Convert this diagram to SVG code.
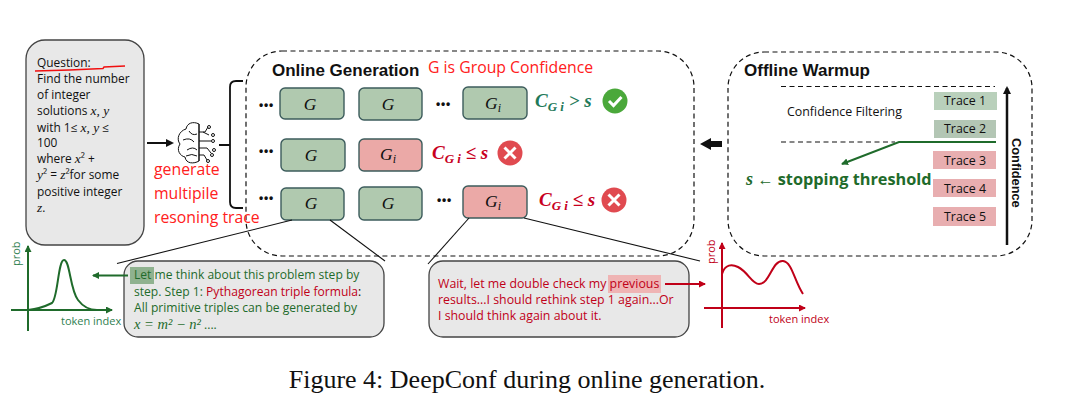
<svg xmlns="http://www.w3.org/2000/svg" width="1072" height="419" viewBox="0 0 1072 419">
<style>
text{font-family:"Open Sans","Liberation Sans",sans-serif;fill:#111}
.m{font-family:"Liberation Serif",serif;font-style:italic;font-size:13.5px}
.q{font-size:11.9px}
.dash{fill:none;stroke:#111;stroke-width:1.2;stroke-dasharray:5 3.5}
.gg{fill:#b0c9af;stroke:#3c5c5c;stroke-width:1.4}
.gp{fill:#eba9a7;stroke:#3c5c5c;stroke-width:1.4}
.gl{font-size:17.5px;text-anchor:middle;font-family:"Liberation Serif",serif;font-style:italic}
.dots{font-size:12px;font-weight:700;font-family:"Liberation Sans",sans-serif;letter-spacing:.8px}
.rd{fill:#ff2020}
.cond{font-family:"Liberation Serif",serif;font-style:italic;font-weight:700;font-size:19px}
.tr{font-size:12.4px;text-anchor:middle}
.h{font-family:"Liberation Sans",sans-serif;font-weight:700;font-size:17px}
.b{font-size:12.1px}
.br{font-size:12.35px}
.ln{stroke:#111;stroke-width:1.1;fill:none}
.gc{fill:#1f6b2b}
.rc{fill:#c00018}
</style>
<defs>
<marker id="ak" markerWidth="9" markerHeight="9" refX="6" refY="4" orient="auto" markerUnits="userSpaceOnUse"><path d="M0 0L8 4L0 8z" fill="#111"/></marker>
<marker id="ag" markerWidth="8" markerHeight="8" refX="6" refY="3.5" orient="auto" markerUnits="userSpaceOnUse"><path d="M0 0L7 3.5L0 7z" fill="#1f6b2b"/></marker>
<marker id="ar" markerWidth="8" markerHeight="8" refX="6" refY="3.5" orient="auto" markerUnits="userSpaceOnUse"><path d="M0 0L7 3.5L0 7z" fill="#c00018"/></marker>
</defs>

<g id="online-frame"><rect class="dash" x="246" y="51" width="448" height="205" rx="36"/><text class="h" x="272" y="76">Online Generation</text><text class="rd" x="428" y="73" font-size="15.800">G is Group Confidence</text></g>
<g id="offline-frame"><rect class="dash" x="728" y="52" width="304" height="204" rx="36"/><text class="h" x="744" y="76">Offline Warmup</text></g>

<g id="question"><rect x="26" y="40" width="118" height="205" rx="19" fill="#e8e8e8" stroke="#444" stroke-width="1.3"/>
<text class="q"><tspan x="37" y="67">Question:</tspan><tspan x="37" y="83">Find the number</tspan><tspan x="37" y="99">of integer</tspan><tspan x="37" y="115">solutions <tspan class="m">x, y</tspan></tspan><tspan x="37" y="132">with 1≤ <tspan class="m">x, y</tspan> ≤</tspan><tspan x="37" y="147">100</tspan><tspan x="37" y="163">where <tspan class="m">x</tspan>² +</tspan><tspan x="37" y="179"><tspan class="m">y</tspan>² = <tspan class="m">z</tspan>²for some</tspan><tspan x="37" y="196">positive integer</tspan><tspan x="37" y="212" class="m">z</tspan><tspan>.</tspan></text>
<path d="M35 71Q70 70 103 68.500L104 67L125 66" fill="none" stroke="#f01010" stroke-width="1.400"/></g>

<g id="brain" fill="none" stroke="#111" stroke-width="1">
<path d="M199 124C193 121 187 123 186 129C179 131 176 139 180 144C176 150 180 156 185 157C186 164 194 164 199 161Z"/>
<path d="M183 140Q190 137 194 142M187 150Q193 146 197 150M189 131Q192 136 197 134M186 156Q192 153 197 156"/>
<path d="M199 124V161M199 132H205L208 127M199 141H211M199 148H207L211 153M199 155H204L207 160M203 132L209 135"/>
<circle cx="209" cy="127" r="1.500"/><circle cx="213" cy="135" r="1.500"/><circle cx="213" cy="141" r="1.500"/><circle cx="214" cy="150" r="1.500"/><circle cx="208" cy="161" r="1.500"/><circle cx="212" cy="155" r="1.500"/>
</g>
<g id="generate-label"><text class="rd" font-size="15.800"><tspan x="154" y="175">generate</tspan><tspan x="154" y="199">multipile</tspan><tspan x="154" y="223">resoning trace</tspan></text></g>

<g id="row1">
<text class="dots" x="259" y="109">•••</text><rect class="gg" x="280" y="88" width="64" height="31" rx="5"/><text class="gl" x="310" y="110">G</text>
<rect class="gg" x="359" y="88" width="63" height="32" rx="5"/><text class="gl" x="388" y="110">G</text>
<text class="dots" x="436" y="108">•••</text>
<rect class="gg" x="463" y="87" width="64" height="32" rx="5"/><text class="gl" x="493" y="109">G<tspan font-size="12" dy="3">i</tspan></text>
<text class="cond" x="535" y="107" style="fill:#1f7a5a">C<tspan font-size="13" dy="4">G i</tspan><tspan dy="-4"> &gt; s</tspan></text>
<circle cx="615" cy="101" r="12.500" fill="#4aa83a"/><path d="M609 101L613.500 105.500L621.500 97" fill="none" stroke="#fff" stroke-width="3"/>
</g>
<g id="row2">
<text class="dots" x="259" y="155">•••</text><rect class="gg" x="281" y="139" width="64" height="32" rx="5"/><text class="gl" x="311" y="161">G</text>
<rect class="gp" x="359" y="139" width="63" height="32" rx="5"/><text class="gl" x="388" y="160">G<tspan font-size="12" dy="3">i</tspan></text>
<text class="cond" x="432" y="159" style="fill:#c8001e">C<tspan font-size="13" dy="4">G i</tspan><tspan dy="-4"> ≤ s</tspan></text>
<circle cx="510" cy="153" r="12.500" fill="#e04a50"/><path d="M504.500 147.500L515.500 158.500M515.500 147.500L504.500 158.500" stroke="#fff" stroke-width="3"/>
</g>
<g id="row3">
<text class="dots" x="259" y="202">•••</text><rect class="gg" x="281" y="188" width="63" height="32" rx="5"/><text class="gl" x="311" y="209">G</text>
<rect class="gg" x="359" y="187" width="63" height="33" rx="5"/><text class="gl" x="388" y="209">G</text>
<text class="dots" x="437" y="204">•••</text>
<rect class="gp" x="463" y="186" width="64" height="32" rx="5"/><text class="gl" x="493" y="207">G<tspan font-size="12" dy="3">i</tspan></text>
<text class="cond" x="539" y="206" style="fill:#c8001e">C<tspan font-size="13" dy="4">G i</tspan><tspan dy="-4"> ≤ s</tspan></text>
<circle cx="614" cy="200" r="12.500" fill="#e04a50"/><path d="M608.500 194.500L619.500 205.500M619.500 194.500L608.500 205.500" stroke="#fff" stroke-width="3"/>
</g>

<g id="traces">
<text x="787" y="116" font-size="12.400">Confidence Filtering</text>
<rect x="934" y="92" width="63" height="18" fill="#b9d0bb"/><text class="tr" x="965" y="105">Trace 1</text>
<rect x="934" y="120" width="62" height="18" fill="#b3c6b4"/><text class="tr" x="965" y="133">Trace 2</text>
<rect x="933" y="151" width="63" height="18" fill="#e8aeb0"/><text class="tr" x="965" y="165">Trace 3</text>
<rect x="933" y="179" width="63" height="18" fill="#e8aeb0"/><text class="tr" x="965" y="193">Trace 4</text>
<rect x="933" y="207" width="63" height="19" fill="#e8aeb0"/><text class="tr" x="965" y="221">Trace 5</text>
<text class="h" transform="translate(1012,138) rotate(90)" style="font-size:12.800px">Confidence</text>
<text x="746" y="185" style="fill:#1f6b2b;font-weight:700;font-size:16.300px"><tspan class="m" style="font-size:18px;fill:#1f6b2b">s</tspan> <tspan style="font-family:'Liberation Sans',sans-serif;font-weight:400;fill:#1f6b2b">←</tspan> stopping threshold</text>
</g>

<g id="left-bubble"><rect x="124" y="261" width="260" height="76" rx="14" fill="#e8e8e8" stroke="#444" stroke-width="1.300"/>
<rect x="130" y="267" width="24" height="17" fill="#8fb28f"/>
<text class="b gc"><tspan x="134" y="279" class="gc">Let me think about this problem step by</tspan><tspan x="134" y="296" class="gc">step. Step 1: <tspan class="rc">Pythagorean triple formula</tspan><tspan style="fill:#111">:</tspan></tspan><tspan x="134" y="312" class="gc">All primitive triples can be generated by</tspan><tspan x="134" y="329" class="gc"><tspan class="m gc" style="font-size:14.500px">x = m² − n²</tspan> ....</tspan></text></g>

<g id="left-chart">
<line x1="28" y1="331" x2="28" y2="246" stroke="#1f6b2b" stroke-width="2" marker-end="url(#ag)"/>
<line x1="11" y1="310" x2="112" y2="310" stroke="#1f6b2b" stroke-width="2" marker-end="url(#ag)"/>
<path d="M28 310C38 309 48 305 52 303C58 298 58 260 64 260C70 260 70 290 78 300C84 308 90 310 97 310" fill="none" stroke="#1f6b2b" stroke-width="2"/>
<text transform="translate(20,266) rotate(-90)" font-size="11" style="fill:#2f8050">prob</text>
<text x="61" y="325" font-size="11" style="fill:#2f8050">token index</text>
</g>

<g id="right-bubble"><rect x="429" y="261" width="260" height="76" rx="14" fill="#e8e8e8" stroke="#444" stroke-width="1.300"/>
<rect x="608" y="275" width="53" height="18" fill="#efb4b4"/>
<text class="br rc"><tspan x="438" y="288" class="rc">Wait, let me double check my previous</tspan><tspan x="438" y="304" class="rc">results...I should rethink step 1 again...Or</tspan><tspan x="438" y="320" class="rc">I should think again about it.</tspan></text></g>

<g id="right-chart">
<line x1="722" y1="328" x2="722" y2="243" stroke="#c00018" stroke-width="2" marker-end="url(#ar)"/>
<line x1="704" y1="308" x2="805" y2="308" stroke="#c00018" stroke-width="2" marker-end="url(#ar)"/>
<path d="M722 274C725 264 732 264 738 267C748 272 752 284 759 284C770 284 772 260 783 261C792 262 794 280 803 294" fill="none" stroke="#c00018" stroke-width="2"/>
<text transform="translate(715,264) rotate(-90)" font-size="11" style="fill:#c00018">prob</text>
<text x="769" y="323" font-size="11" style="fill:#c00018">token index</text>
</g>

<g id="connectors">
<line x1="147" y1="143" x2="172" y2="143" stroke="#111" stroke-width="2" marker-end="url(#ak)"/>
<path d="M219 145H230M243 81H236Q230 81 230 87V202Q230 208 236 208H243" fill="none" stroke="#111" stroke-width="1.800"/>
<line class="ln" x1="292" y1="220" x2="117" y2="263.500"/>
<line class="ln" x1="330" y1="220" x2="385" y2="261"/>
<line class="ln" x1="469" y1="218" x2="428" y2="264"/>
<line class="ln" x1="524" y1="218" x2="700" y2="261"/>
<path d="M722 141H711V138L700 144L711 150V147H722Z" fill="#111"/>
<path d="M781 86.500H995" class="dash" stroke-width="1.300"/>
<path d="M781 142H895" class="dash" stroke-width="1.300"/>
<path d="M996 142H899L842 164" fill="none" stroke="#1f6b2b" stroke-width="2" marker-end="url(#ag)"/>
<line x1="1007" y1="245" x2="1007" y2="88" stroke="#111" stroke-width="2.500" marker-end="url(#ak)"/>
<line x1="128" y1="275.500" x2="93" y2="275.500" stroke="#1f6b2b" stroke-width="2" marker-end="url(#ag)"/>
<line x1="665" y1="284" x2="705" y2="284" stroke="#c00018" stroke-width="2" marker-end="url(#ar)"/>
</g>

<g id="caption"><text x="527" y="388" text-anchor="middle" style="font-family:'Liberation Serif',serif;font-size:26px">Figure 4: DeepConf during online generation.</text></g>
</svg>
